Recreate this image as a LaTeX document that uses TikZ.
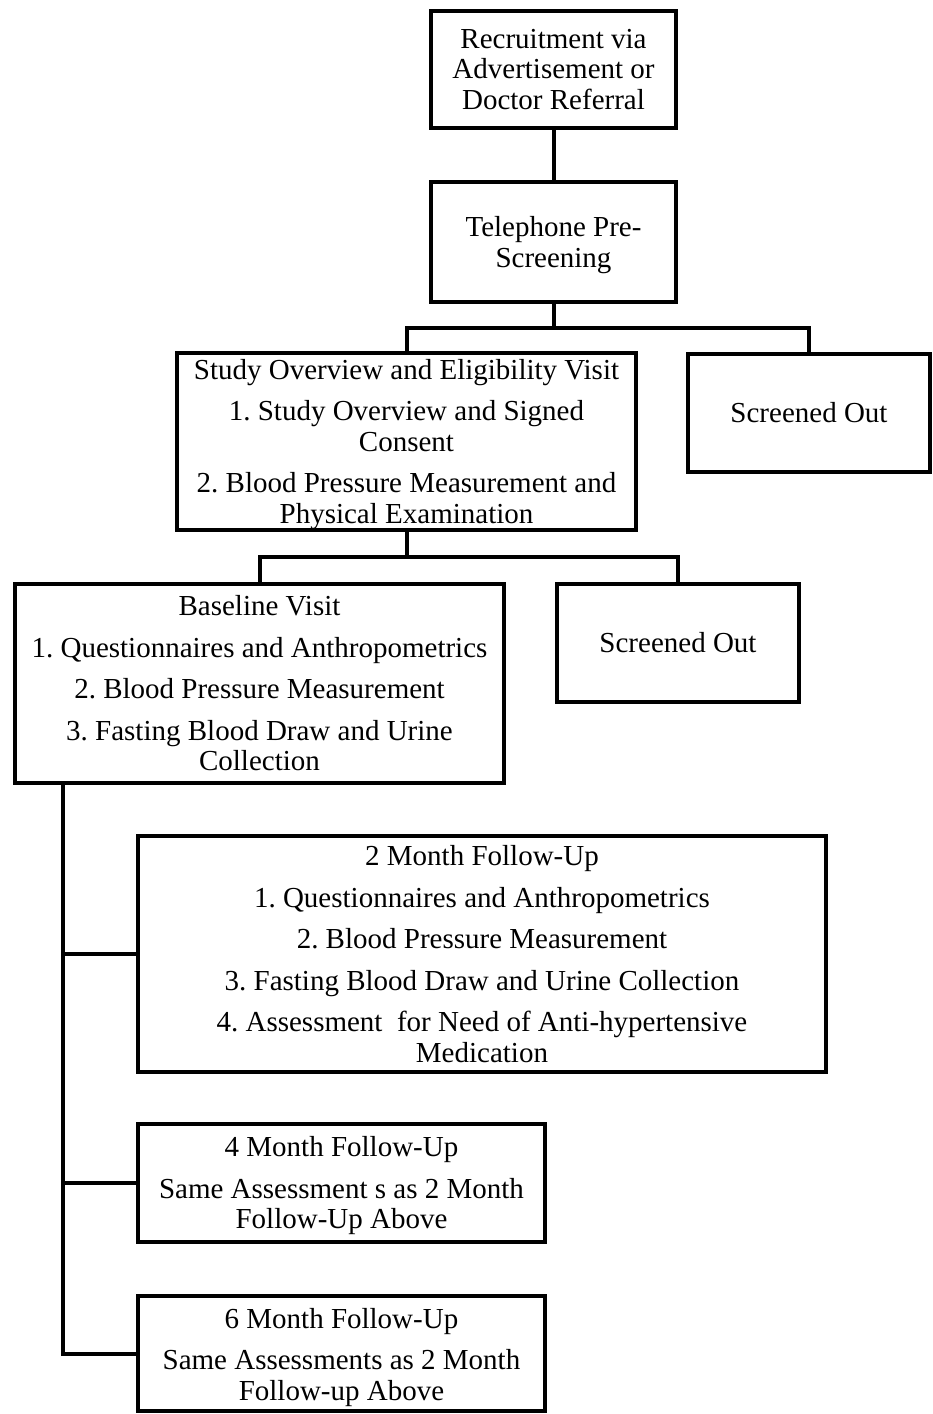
\documentclass[tikz,border=0pt]{standalone}
\usepackage{fontspec}
\setmainfont{Liberation Serif}
\frenchspacing
\newcommand\mytopgap[1]{\rule{0pt}{#1}}
\begin{document}
\begin{tikzpicture}[x=1pt,y=-1pt]
\tikzset{
  box/.style={draw, line width=4pt, align=center, inner sep=0pt,
    font=\fontsize{29}{30.5}\selectfont},
  conn/.style={line width=4pt}
}
\useasboundingbox (0,0) rectangle (933,1414);
\node[box, minimum width=245pt, minimum height=117pt] (rec) at (553.5,69.5)
  {Recruitment via\\Advertisement or\\Doctor Referral};
\node[box, minimum width=245pt, minimum height=120pt] (tel) at (553.5,242)
  {\mytopgap{26pt}Telephone Pre-\\Screening};
\node[box, minimum width=459pt, minimum height=175pt] (study) at (406.5,441.5)
  {\mytopgap{26pt}Study Overview and Eligibility Visit\\[11pt]1. Study Overview and Signed\\Consent\\[11pt]2. Blood Pressure Measurement and\\Physical Examination};
\node[box, minimum width=242pt, minimum height=118pt] (so1) at (809,413)
  {Screened Out};
\node[box, minimum width=489pt, minimum height=199pt] (base) at (259.5,683.5)
  {Baseline Visit\\[11pt]1. Questionnaires and Anthropometrics\\[11pt]2. Blood Pressure Measurement\\[11pt]3. Fasting Blood Draw and Urine\\Collection};
\node[box, minimum width=242pt, minimum height=118pt] (so2) at (678,643)
  {Screened Out};
\node[box, minimum width=688pt, minimum height=236pt] (m2) at (482,954)
  {2 Month Follow-Up\\[11pt]1. Questionnaires and Anthropometrics\\[11pt]2. Blood Pressure Measurement\\[11pt]3. Fasting Blood Draw and Urine Collection\\[11pt]4. Assessment~ for Need of Anti-hypertensive\\Medication};
\node[box, minimum width=407pt, minimum height=118pt] (m4) at (341.5,1183)
  {\mytopgap{26pt}4 Month Follow-Up\\[11pt]Same Assessment s as 2 Month\\Follow-Up Above};
\node[box, minimum width=407pt, minimum height=115pt] (m6) at (341.5,1353.5)
  {\mytopgap{28pt}6 Month Follow-Up\\[11pt]Same Assessments as 2 Month\\Follow-up Above};
\coordinate (j1) at (553.5,328);
\coordinate (j2) at (406.5,557);
\draw[conn] (rec.south) -- (tel.north);
\draw[conn] (tel.south) -- (j1);
\draw[conn] (study.north) |- (j1) -| (so1.north);
\draw[conn] (study.south) -- (j2);
\draw[conn] (base.north) |- (j2) -| (so2.north);
\coordinate (t0) at ([xshift=50pt]base.south west);
\coordinate (t1) at (t0 |- m6.west);
\draw[conn] (t0) -- (t1) -- (m6.west);
\draw[conn] (t0 |- m2.west) -- (m2.west);
\draw[conn] (t0 |- m4.west) -- (m4.west);
\end{tikzpicture}
\end{document}
